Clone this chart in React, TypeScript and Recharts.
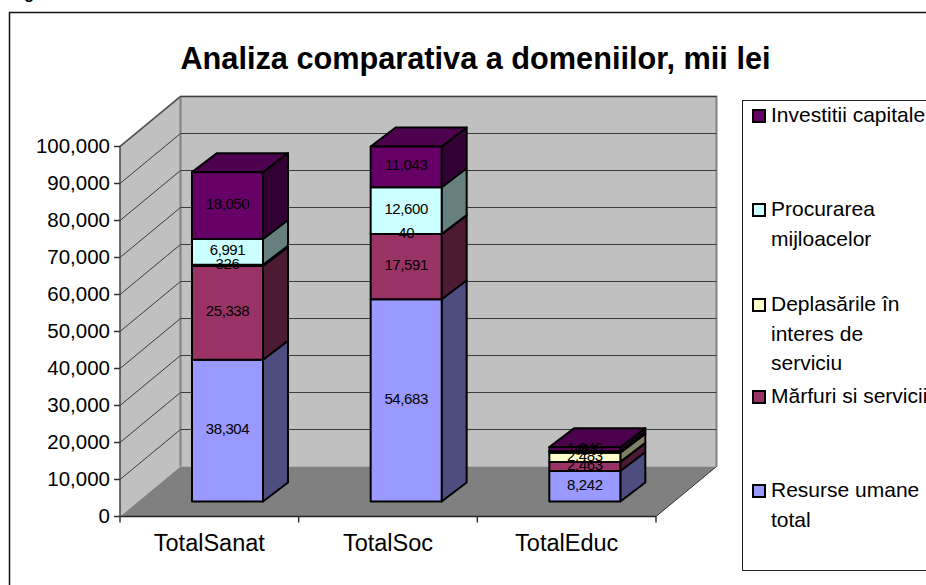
import { BarChart, Bar, XAxis, YAxis, CartesianGrid, Legend, LabelList } from "recharts";

const categories = ["TotalSanat", "TotalSoc", "TotalEduc"];
const resurseUmane = [38304, 54683, 8242];
const marfuri = [25338, 17591, 2463];
const deplasari = [326, 40, 2483];
const procurarea = [6991, 12600, 454];
const investitii = [18050, 11043, 1046];
const yTicks = [0, 10000, 20000, 30000, 40000, 50000, 60000, 70000, 80000, 90000, 100000];

const data = categories.map((name, i) => ({
  name,
  resurseUmane: resurseUmane[i],
  marfuri: marfuri[i],
  deplasari: deplasari[i],
  procurarea: procurarea[i],
  investitii: investitii[i],
}));

const FONT = '"Liberation Sans", Arial, sans-serif';

const WIDTH = 926;
const HEIGHT = 585;
const LEFT = 120;
const RIGHT = 656;
const TOP = 146.5;
const BOTTOM = 516.5;
const BAND = (RIGHT - LEFT) / categories.length;
// depth of the fake 3D box
const WALL_DX = 60.5;
const WALL_DY = 50;
// bars sit part way into the box
const BAR_DX = 18;
const BAR_DY = 15;
const CUBE_DX = 25;
const CUBE_DY = 19;

const series = [
  { key: "investitii", front: "#660066", side: "#330033", top: "#4d004d", lines: ["Investitii capitale"], legendY: 115 },
  { key: "procurarea", front: "#ccffff", side: "#668080", top: "#99bfbf", lines: ["Procurarea", "mijloacelor"], legendY: 209 },
  { key: "deplasari", front: "#ffffcc", side: "#808066", top: "#bfbf99", lines: ["Deplasările în", "interes de", "serviciu"], legendY: 304 },
  { key: "marfuri", front: "#993366", side: "#4d1a33", top: "#73264d", lines: ["Mărfuri si servicii"], legendY: 396 },
  { key: "resurseUmane", front: "#9999ff", side: "#4d4d80", top: "#7373bf", lines: ["Resurse umane", "total"], legendY: 490 },
];

function cubeShape(front: string, side: string, top: string, withTop: boolean) {
  return (props: any) => {
    const x = props.x + BAR_DX;
    const y = props.y - BAR_DY;
    const w = props.width;
    const h = props.height;
    const stroke = { stroke: "#000", strokeWidth: 2, strokeLinejoin: "round" as const };
    return (
      <g>
        <path
          d={`M${x + w},${y} l${CUBE_DX},${-CUBE_DY} v${h} l${-CUBE_DX},${CUBE_DY} z`}
          fill={side}
          {...stroke}
        />
        {withTop && (
          <path
            d={`M${x},${y} l${CUBE_DX},${-CUBE_DY} h${w} l${-CUBE_DX},${CUBE_DY} z`}
            fill={top}
            {...stroke}
          />
        )}
        <rect x={x} y={y} width={w} height={h} fill={front} {...stroke} />
      </g>
    );
  };
}

function valueLabel(props: any) {
  const { x, y, width, height, value } = props;
  return (
    <text
      x={x + BAR_DX + width / 2}
      y={y - BAR_DY + height / 2 - 2}
      textAnchor="middle"
      dominantBaseline="central"
      fontFamily={FONT}
      fontSize={15}
      letterSpacing={-0.4}
      fill="#000"
    >
      {Number(value).toLocaleString("en-US")}
    </text>
  );
}

function YTick(props: any) {
  const { y, payload } = props;
  return (
    <g>
      <line x1={LEFT - 6} x2={LEFT} y1={y} y2={y} stroke="#333" strokeWidth={1.5} />
      <text x={LEFT - 10} y={y} textAnchor="end" dominantBaseline="central" fontFamily={FONT} fontSize={20.5} fill="#000" dy={-1}>
        {Number(payload.value).toLocaleString("en-US")}
      </text>
    </g>
  );
}

function XTick(props: any) {
  const { x, payload, index } = props;
  return (
    <g>
      <line x1={x - BAND / 2} x2={x - BAND / 2} y1={BOTTOM} y2={BOTTOM + 6} stroke="#333" strokeWidth={1.5} />
      {index === categories.length - 1 && (
        <line x1={x + BAND / 2} x2={x + BAND / 2} y1={BOTTOM} y2={BOTTOM + 6} stroke="#333" strokeWidth={1.5} />
      )}
      <text x={x} y={BOTTOM + 26} textAnchor="middle" dominantBaseline="central" fontFamily={FONT} fontSize={23.5} fill="#000">
        {payload.value}
      </text>
    </g>
  );
}

function gridLine(props: any) {
  const { x1, y1, x2, y2, index } = props;
  if (y1 >= BOTTOM - 1) return <g key={index} />;
  return (
    <path
      key={index}
      d={`M${x1},${y1} L${x1 + WALL_DX},${y1 - WALL_DY} L${x2 + WALL_DX},${y2 - WALL_DY}`}
      fill="none"
      stroke="#3c3c3c"
      strokeWidth={1}
    />
  );
}

// walls and floor live under the chart svg, the grid has to paint over them
function Walls() {
  return (
    <svg width={WIDTH} height={HEIGHT} style={{ position: "absolute", left: 0, top: 0 }}>
      <path d={`M9.5,${HEIGHT} V12.5 H${WIDTH}`} fill="none" stroke="#111" strokeWidth={1.5} />
      <path d={`M${LEFT},${BOTTOM} V${TOP} L${LEFT + WALL_DX},${TOP - WALL_DY} V${BOTTOM - WALL_DY} Z`} fill="#c0c0c0" />
      <rect x={LEFT + WALL_DX} y={TOP - WALL_DY} width={RIGHT - LEFT} height={BOTTOM - TOP} fill="#c0c0c0" />
      <path
        d={`M${LEFT},${TOP} L${LEFT + WALL_DX},${TOP - WALL_DY} H${RIGHT + WALL_DX} V${BOTTOM - WALL_DY} M${LEFT + WALL_DX},${TOP - WALL_DY} V${BOTTOM - WALL_DY}`}
        fill="none"
        stroke="#808080"
        strokeWidth={2}
      />
      <path d={`M${LEFT},${BOTTOM} H${RIGHT} L${RIGHT + WALL_DX},${BOTTOM - WALL_DY} H${LEFT + WALL_DX} Z`} fill="#808080" />
      <path d={`M${RIGHT},${BOTTOM} L${RIGHT + WALL_DX},${BOTTOM - WALL_DY}`} stroke="#333" strokeWidth={1} />
    </svg>
  );
}

function LegendBox() {
  return (
    <div style={{ position: "absolute", left: 742, top: 100, width: 300, height: 471, border: "1px solid #222", boxSizing: "border-box", background: "#fff", fontFamily: FONT, fontSize: 21, color: "#000" }}>
      {series.map((s) => (
        <div key={s.key}>
          <span style={{ position: "absolute", left: 9, top: s.legendY - 100 - 7, width: 10, height: 10, background: s.front, border: "2px solid #000" }} />
          {s.lines.map((line, i) => (
            <div key={line} style={{ position: "absolute", left: 28, top: s.legendY - 100 - 13 + i * 29.5, lineHeight: "24px", whiteSpace: "nowrap" }}>
              {line}
            </div>
          ))}
        </div>
      ))}
    </div>
  );
}

export default function App() {
  return (
    <div style={{ position: "absolute", left: 0, top: 0, width: WIDTH, height: HEIGHT, overflow: "hidden", background: "#fff" }}>
      <Walls />
      <BarChart
        width={WIDTH}
        height={HEIGHT}
        data={data}
        margin={{ left: 40, right: WIDTH - RIGHT, top: TOP, bottom: 28.5 }}
        barSize={71}
      >
        <text x={10} y={-1.5} fontFamily={FONT} fontWeight="bold" fontSize={16} fill="#000">Figura</text>
        <text x={475.5} y={58} textAnchor="middle" dominantBaseline="central" fontFamily={FONT} fontWeight="bold" fontSize={30.7} fill="#000">
          Analiza comparativa a domeniilor, mii lei
        </text>
        <CartesianGrid horizontal={gridLine} vertical={false} />
        <XAxis dataKey="name" tick={<XTick />} tickLine={false} axisLine={{ stroke: "#222", strokeWidth: 1.5 }} height={40} interval={0} />
        <YAxis
          domain={[0, 100000]}
          ticks={yTicks}
          tick={<YTick />}
          tickLine={false}
          axisLine={{ stroke: "#444", strokeWidth: 1.5 }}
          width={80}
          interval={0}
        />
        {[...series].reverse().map((s) => (
          <Bar
            key={s.key}
            dataKey={s.key}
            stackId="a"
            isAnimationActive={false}
            fill={s.front}
            shape={cubeShape(s.front, s.side, s.top, s.key === "investitii")}
          >
            <LabelList dataKey={s.key} content={valueLabel} />
          </Bar>
        ))}
        <Legend layout="vertical" align="center" verticalAlign="middle" wrapperStyle={{ position: "absolute", left: 0, top: 0, width: 0, height: 0 }} content={() => <LegendBox />} />
      </BarChart>
    </div>
  );
}
